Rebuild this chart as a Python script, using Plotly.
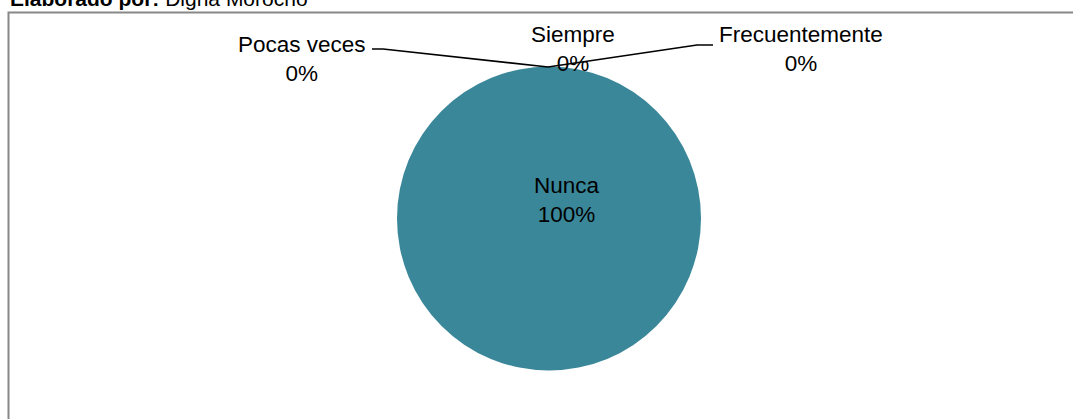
import plotly.graph_objects as go

W, H = 1073, 419

categories = ["Siempre", "Frecuentemente", "Pocas veces", "Nunca"]
values = [0, 0, 0, 100]
pct_labels = ["0%", "0%", "0%", "100%"]
credit_bold = "Elaborado por:"
credit_name = "Digna Morocho"

color_main = "#3A8799"

def px(x):
    return x / W

def py(y):
    return 1 - y / H

fig = go.Figure()
fig.add_trace(go.Pie(
    labels=categories,
    values=values,
    sort=False,
    direction="clockwise",
    rotation=0,
    marker=dict(colors=[color_main] * 4, line=dict(width=0)),
    textinfo="none",
    hoverinfo="label+percent",
    showlegend=False,
    domain=dict(x=[px(397), px(701)], y=[py(370.5), py(66.5)]),
))

font = dict(family="Liberation Sans, Arial, sans-serif", size=22.5, color="#000000")

# label positions (pixel centres)
label_pos = {
    "Siempre": (573, 49),
    "Frecuentemente": (801, 49),
    "Pocas veces": (302, 59),
    "Nunca": (567, 200),
}
for cat, pct in zip(categories, pct_labels):
    x, y = label_pos[cat]
    fig.add_annotation(x=px(x), y=py(y), xref="paper", yref="paper",
                       text=f"{cat}<br>{pct}", showarrow=False, font=font,
                       xanchor="center", yanchor="middle", align="center")

# leader lines
fig.add_shape(type="path", xref="paper", yref="paper",
              path=f"M {px(372)} {py(49)} L {px(383)} {py(49)} L {px(548)} {py(67)}",
              line=dict(color="black", width=1.6))
fig.add_shape(type="path", xref="paper", yref="paper",
              path=f"M {px(548)} {py(67)} L {px(697)} {py(45)} L {px(713)} {py(45)}",
              line=dict(color="black", width=1.6))

# border (open to the right and bottom, as in the reference crop)
fig.add_shape(type="rect", xref="paper", yref="paper",
              x0=px(8.5), x1=px(1200), y0=py(500), y1=py(12.5),
              line=dict(color="#888888", width=2), fillcolor="rgba(0,0,0,0)")

fig.add_annotation(x=px(8), y=py(12.5), xref="paper", yref="paper",
                   text=f"<b>{credit_bold}</b> {credit_name}", showarrow=False,
                   font=dict(family="Liberation Sans, Arial, sans-serif", size=21, color="#000000"),
                   xanchor="left", yanchor="bottom")

fig.update_layout(width=W, height=H, margin=dict(l=0, r=0, t=0, b=0),
                  paper_bgcolor="white", plot_bgcolor="white")

fig.write_html("out.html", config={"displayModeBar": False},
               post_script="document.body.style.margin='0';document.body.style.overflow='hidden';")
